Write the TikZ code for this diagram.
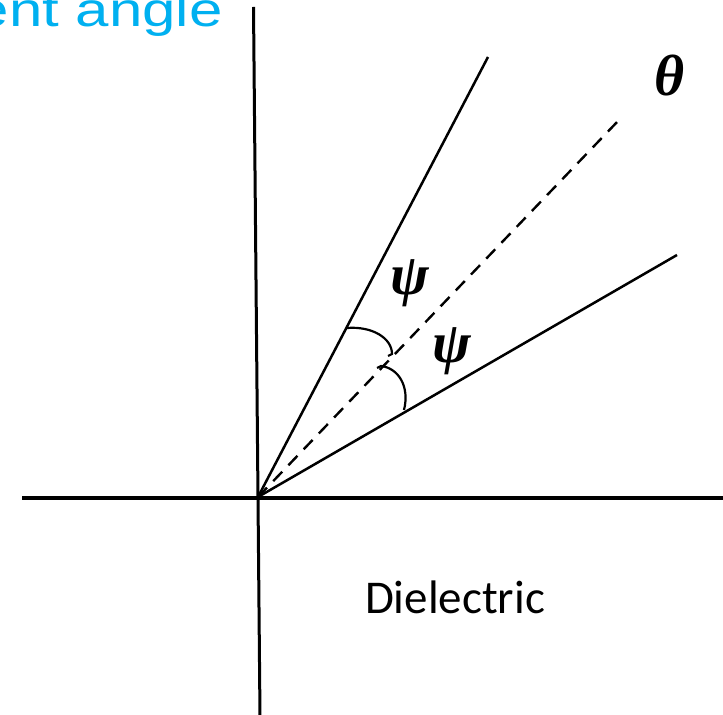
\documentclass[tikz,border=0pt]{standalone}
\usepackage{graphicx}
\usepackage{fontspec}
\setmainfont{Liberation Serif}
\newfontfamily\labelsans{Liberation Sans}
\newfontfamily\dielfont{Carlito}
\definecolor{titlecyan}{HTML}{00B0F0}
\begin{document}
\begin{tikzpicture}[x=0.5pt,y=-0.5pt,
  axisline/.style={line width=1.5pt,black},
  rayline/.style={line width=1.25pt,black},
  dashray/.style={line width=1.2pt,black,dash pattern=on 6.5pt off 4.5pt},
  anglearc/.style={line width=1.1pt,black},
  greek/.style={inner sep=0pt,font=\fontsize{29}{32}\selectfont\bfseries\itshape},
]
\useasboundingbox (0,0) rectangle (723,715);
\clip (0,0) rectangle (723,715);
\fill[white] (0,0) rectangle (723,715);
% coordinates
\coordinate (O) at (258,497);
\coordinate (Vtop) at (253.5,7);
\coordinate (Vbot) at (260,717);
\coordinate (Hl) at (22,498);
\coordinate (Hr) at (725,498);
\coordinate (U) at (488,57);
\coordinate (D) at (619,120);
\coordinate (L) at (677,255);
% axes
\draw[axisline] (Vtop) -- (Vbot);
\draw[axisline,line width=2.2pt] (Hl) -- (Hr);
% rays
\draw[rayline] (O) -- (U);
\draw[rayline] (O) -- (L);
\draw[dashray] (O) -- (D);
% angle arcs
\coordinate (a1s) at (347,328);
\coordinate (a1e) at (392,354);
\coordinate (a2s) at (381,366);
\coordinate (a2e) at (404,410);
\draw[anglearc] (a1s) .. controls (372,326) and (392,338) .. (a1e) -- ++(-4,2);
\draw[anglearc] (a2s) ++(-4,2) -- (a2s) .. controls (398,368) and (410,386) .. (a2e);
% labels
\node[greek] (psi1) at (410,283) {ψ};
\node[greek] (psi2) at (452,351) {ψ};
\node[greek] (theta) at (670,76) {θ};
\node[inner sep=0pt,font=\dielfont\fontsize{23.5}{28}\selectfont] (diel) at (455,597.5) {Dielectric};
\node[inner sep=0pt,anchor=base east,text=titlecyan,font=\labelsans\fontsize{24}{28}\selectfont] (title) at (223,26.5) {\scalebox{1.25}[1]{Incident angle}};
\end{tikzpicture}
\end{document}
